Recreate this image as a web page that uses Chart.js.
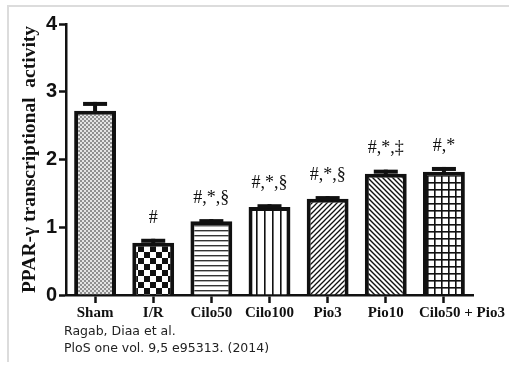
<!DOCTYPE html>
<html>
<head>
<meta charset="utf-8">
<script src="https://cdn.jsdelivr.net/npm/chart.js@4.4.1/dist/chart.umd.min.js"></script>
<style>
  html, body { margin: 0; padding: 0; background: #fff; }
  #wrap { position: relative; width: 509px; height: 370px; overflow: hidden; }
  #frame { position: absolute; left: 7px; top: 5px; width: 510px; height: 357px;
           border-top: 2px solid #dcdcdc; border-left: 2px solid #dcdcdc; box-sizing: border-box; }
  canvas { position: absolute; left: 0; top: 0; }
</style>
</head>
<body>
<div id="wrap">
  <div id="frame"></div>
  <canvas id="c" width="509" height="370"></canvas>
</div>
<script>
// Treatment groups and measured PPAR-γ activity (mean and mean + SEM)
const groups = ['Sham', 'I/R', 'Cilo50', 'Cilo100', 'Pio3', 'Pio10', 'Cilo50 + Pio3'];
const activity = [2.72, 0.77, 1.09, 1.30, 1.42, 1.79, 1.82];
const activityUpper = [2.85, 0.83, 1.12, 1.34, 1.46, 1.85, 1.89];
const significance = ['', '#', '#,*,§', '#,*,§', '#,*,§', '#,*,‡', '#,*'];
const yTicks = [0, 1, 2, 3, 4];
const citation = ['Ragab, Diaa et al.', 'PloS one vol. 9,5 e95313. (2014)'];

const canvas = document.getElementById('c');
const ctx = canvas.getContext('2d');

function tile(w, h, draw) {
  const t = document.createElement('canvas');
  t.width = w; t.height = h;
  const g = t.getContext('2d');
  g.fillStyle = '#fff';
  g.fillRect(0, 0, w, h);
  g.fillStyle = '#111';
  g.strokeStyle = '#111';
  draw(g, w, h);
  return ctx.createPattern(t, 'repeat');
}

const fills = [
  // fine grey stipple
  tile(4, 4, (g) => {
    g.fillStyle = '#e4e4e4'; g.fillRect(0, 0, 4, 4);
    g.fillStyle = '#909090'; g.fillRect(0, 0, 2, 2); g.fillRect(2, 2, 2, 2);
  }),
  // coarse checkerboard
  tile(12, 12, (g) => { g.fillRect(0, 0, 6, 6); g.fillRect(6, 6, 6, 6); }),
  // horizontal lines
  tile(8, 5, (g) => { g.fillStyle = '#333'; g.fillRect(0, 0, 8, 1.4); }),
  // vertical lines
  tile(8, 8, (g) => { g.fillRect(0, 0, 1.6, 8); }),
  // forward diagonals
  tile(5, 5, (g) => {
    g.lineWidth = 1.3;
    g.beginPath();
    g.moveTo(-1, 6); g.lineTo(6, -1);
    g.moveTo(-1, 1); g.lineTo(1, -1);
    g.moveTo(4, 6); g.lineTo(6, 4);
    g.stroke();
  }),
  // back diagonals
  tile(5, 5, (g) => {
    g.lineWidth = 1.4;
    g.beginPath();
    g.moveTo(-1, -1); g.lineTo(6, 6);
    g.moveTo(4, -1); g.lineTo(6, 1);
    g.moveTo(-1, 4); g.lineTo(1, 6);
    g.stroke();
  }),
  // square grid
  tile(7, 7, (g) => { g.fillRect(0, 0, 7, 1.6); g.fillRect(0, 0, 1.6, 7); })
];

const INK = '#111';

const decorations = {
  id: 'decorations',
  afterDatasetsDraw(chart) {
    const c = chart.ctx;
    const y = chart.scales.y;
    const meta = chart.getDatasetMeta(0);
    c.save();
    meta.data.forEach((bar, i) => {
      const yTop = y.getPixelForValue(activityUpper[i]);
      const yBar = y.getPixelForValue(activity[i]);
      // error bar (upper half)
      c.fillStyle = INK;
      c.fillRect(bar.x - 2, yTop, 4, yBar - yTop + 2);
      c.fillRect(bar.x - 12, yTop, 24, 4);
      // significance marks
      if (significance[i]) {
        c.font = '18px "Liberation Serif", "Times New Roman", serif';
        c.textAlign = 'center';
        c.textBaseline = 'middle';
        c.fillText(significance[i], bar.x, yTop - 21);
      }
    });
    c.restore();
  },
  afterDraw(chart) {
    const c = chart.ctx;
    const x = chart.scales.x;
    c.save();
    c.fillStyle = INK;
    c.font = 'bold 15px "Liberation Serif", "Times New Roman", serif';
    c.textAlign = 'center';
    c.textBaseline = 'middle';
    groups.forEach((g, i) => {
      const shift = i === groups.length - 1 ? 18 : 0;
      c.fillText(g, x.getPixelForValue(i) + shift, 313);
    });
    c.fillStyle = '#222';
    c.font = '12.5px "DejaVu Sans", sans-serif';
    c.textAlign = 'left';
    c.textBaseline = 'alphabetic';
    c.fillText(citation[0], 64, 335);
    c.fillText(citation[1], 64, 352);
    c.restore();
  }
};

new Chart(ctx, {
  type: 'bar',
  data: {
    labels: groups,
    datasets: [{
      data: activity,
      backgroundColor: fills,
      borderColor: INK,
      borderWidth: 4,
      categoryPercentage: 1,
      barPercentage: 0.72
    }]
  },
  options: {
    responsive: false,
    animation: false,
    events: [],
    layout: { padding: { top: 24, right: 36, bottom: 0, left: 0 } },
    plugins: { legend: { display: false }, tooltip: { enabled: false } },
    scales: {
      x: {
        offset: true,
        grid: { offset: false, drawOnChartArea: false, drawTicks: true, tickLength: 8, tickWidth: 2.5, tickColor: INK },
        border: { color: INK, width: 2.5 },
        ticks: { display: false },
        afterFit(s) { s.height = 75; }
      },
      y: {
        min: 0, max: 4,
        afterBuildTicks(s) { s.ticks = yTicks.map(v => ({ value: v })); },
        grid: { drawOnChartArea: false, tickLength: 7, tickWidth: 2.5, tickColor: INK },
        border: { color: INK, width: 2.5 },
        ticks: {
          color: INK, padding: 2,
          font: { family: '"Liberation Sans", Arial, sans-serif', size: 20, weight: 'bold' }
        },
        title: {
          display: true,
          text: 'PPAR-γ transcriptional  activity',
          color: INK,
          padding: { top: 18, bottom: 0 },
          font: { family: '"Liberation Serif", "Times New Roman", serif', size: 19.5, weight: 'bold' }
        },
        afterFit(s) { s.width = 66; }
      }
    }
  },
  plugins: [decorations]
});
</script>
</body>
</html>
